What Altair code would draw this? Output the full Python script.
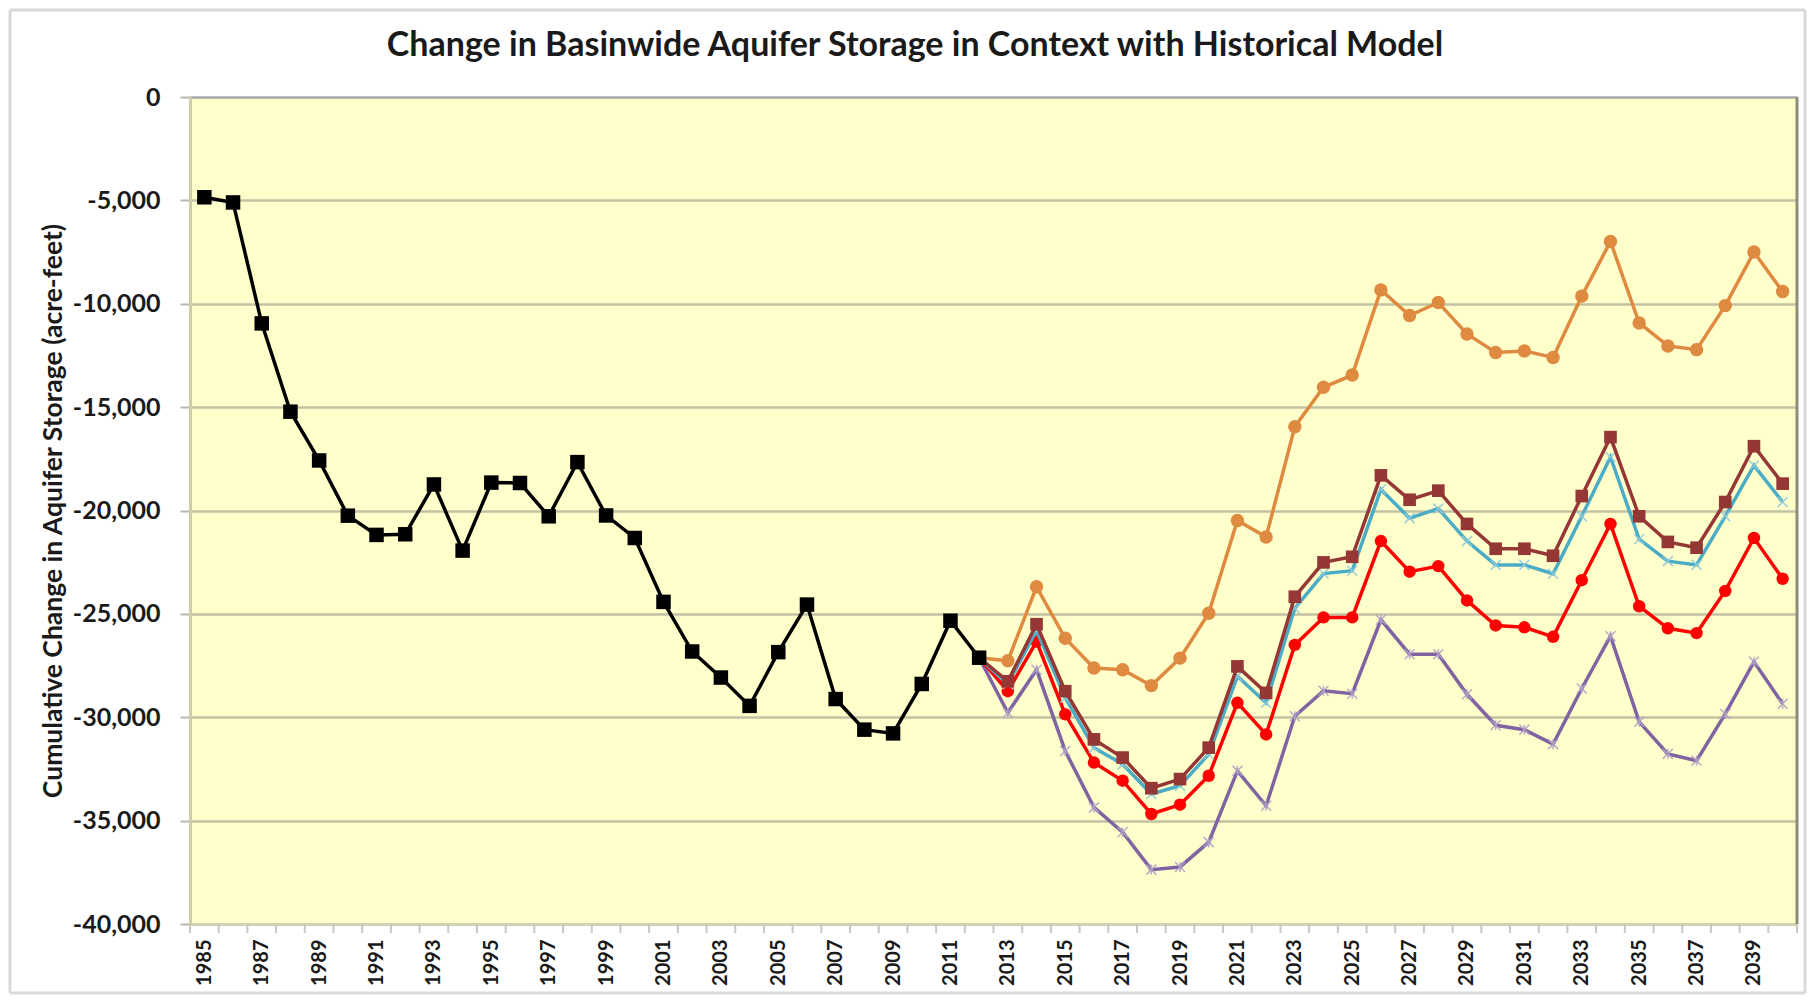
import altair as alt
import pandas as pd

title_text = "Change in Basinwide Aquifer Storage in Context with Historical Model"
y_title = "Cumulative Change in Aquifer Storage (acre-feet)"

hist_years = [1985, 1986, 1987, 1988, 1989, 1990, 1991, 1992, 1993, 1994,
              1995, 1996, 1997, 1998, 1999, 2000, 2001, 2002, 2003, 2004,
              2005, 2006, 2007, 2008, 2009, 2010, 2011, 2012]
historical = [-4850, -5100, -10950, -15220, -17580, -20250, -21180, -21150, -18740, -21940,
              -18650, -18670, -20280, -17660, -20240, -21330, -24420, -26820, -28080, -29450,
              -26850, -24550, -29120, -30600, -30780, -28390, -25330, -27120]

scen_years = [2012, 2013, 2014, 2015, 2016, 2017, 2018, 2019, 2020, 2021,
              2022, 2023, 2024, 2025, 2026, 2027, 2028, 2029, 2030, 2031,
              2032, 2033, 2034, 2035, 2036, 2037, 2038, 2039, 2040]
scen_orange = [-27120, -27270, -23690, -26180, -27620, -27700, -28470, -27140, -24970, -20480,
               -21280, -15950, -14040, -13450, -9330, -10570, -9940, -11460, -12360, -12280,
               -12600, -9630, -6990, -10930, -12040, -12220, -10090, -7500, -9410]
scen_darkred = [-27120, -28260, -25500, -28740, -31070, -31950, -33430, -32990, -31470, -27540,
                -28820, -24170, -22510, -22240, -18300, -19480, -19040, -20650, -21850, -21850,
                -22190, -19300, -16450, -20280, -21520, -21800, -19590, -16890, -18700]
scen_teal = [-27120, -28400, -25800, -29060, -31470, -32270, -33710, -33310, -31790, -28020,
             -29300, -24730, -23050, -22910, -18980, -20370, -19910, -21480, -22630, -22630,
             -23060, -20280, -17410, -21390, -22450, -22630, -20280, -17820, -19590]
scen_red = [-27120, -28740, -26340, -29860, -32190, -33070, -34680, -34230, -32830, -29300,
            -30830, -26500, -25170, -25170, -21480, -22960, -22690, -24350, -25560, -25650,
            -26110, -23370, -20650, -24630, -25700, -25930, -23890, -21330, -23300]
scen_purple = [-27120, -29780, -27700, -31630, -34360, -35560, -37370, -37240, -36040, -32590,
               -34280, -29950, -28720, -28860, -25285, -26950, -26950, -28890, -30390, -30600,
               -31300, -28610, -26080, -30220, -31770, -32100, -29840, -27320, -29350]

x_tick_labels = [1985, 1987, 1989, 1991, 1993, 1995, 1997, 1999, 2001, 2003,
                 2005, 2007, 2009, 2011, 2013, 2015, 2017, 2019, 2021, 2023,
                 2025, 2027, 2029, 2031, 2033, 2035, 2037, 2039]
y_tick_values = [0, -5000, -10000, -15000, -20000, -25000, -30000, -35000, -40000]

# ---------------------------------------------------------------------------
series = [
    ("Historical Model", hist_years, historical),
    ("Scenario 1", scen_years, scen_orange),
    ("Scenario 2", scen_years, scen_darkred),
    ("Scenario 3", scen_years, scen_teal),
    ("Scenario 4", scen_years, scen_red),
    ("Scenario 5", scen_years, scen_purple),
]
rows = []
for name, yrs, vals in series:
    for yr, v in zip(yrs, vals):
        rows.append({"Series": name, "Year": yr, "Value": v})
df = pd.DataFrame(rows)

all_years = sorted(set(hist_years) | set(scen_years))
edges = [y - 0.5 for y in all_years] + [all_years[-1] + 0.5]
edge_df = pd.DataFrame({"Year": edges})

W, H = 1607, 827
PAD = {"left": 182, "top": 89, "right": 11, "bottom": 72}

x_scale = alt.Scale(domain=[all_years[0] - 0.5, all_years[-1] + 0.5], nice=False, zero=False)
y_scale = alt.Scale(domain=[y_tick_values[-1], y_tick_values[0]], nice=False, zero=False)

x_axis = alt.Axis(
    values=x_tick_labels, labelExpr="format(datum.value, 'd')",
    labelAngle=270, labelAlign="right",
    labelBaseline="middle", labelFont="Lato", labelFontWeight="bold",
    labelFontSize=20, labelColor="#1a1a1a", labelPadding=15, ticks=False,
    grid=False, domainColor="#D3D1B0", domainWidth=2, title=None,
    labelOverlap=False, labelFlush=False,
)
y_axis = alt.Axis(
    values=y_tick_values,
    labelExpr="replace(format(datum.value, ','), '\u2212', '-')",
    labelFont="Lato", labelFontWeight="bold", labelFontSize=25,
    labelColor="#1a1a1a", labelPadding=20, tickSize=10, tickColor="#B8B7AA",
    tickWidth=2, domainColor="#CFCDA6", domainWidth=3,
    gridColor={"condition": {"test": "datum.value === 0", "value": "#A9A9A9"},
               "value": "#C3C1A3"},
    gridWidth=2.5, title=y_title, titleFont="Lato", titleFontSize=26.5,
    titleFontWeight="bold", titleColor="#1a1a1a", titleX=-137, titleY=H / 2,
    titleAngle=270, titleAlign="center", titleBaseline="middle",
    labelOverlap=False, labelFlush=False,
)

X_PATH = "M -1 -1 L 1 1 M -1 1 L 1 -1"
STAR_PATH = "M -1 -1 L 1 1 M -1 1 L 1 -1 M 0 -1 L 0 1"

style = {
    "Historical Model": dict(color="#000000", shape="square", size=210, filled=True, mcolor="#000000"),
    "Scenario 1": dict(color="#DE8A40", shape="circle", size=180, filled=True, mcolor="#DE8A40"),
    "Scenario 2": dict(color="#953735", shape="square", size=160, filled=True, mcolor="#953735"),
    "Scenario 3": dict(color="#4BACC6", shape=X_PATH, size=100, filled=False, mcolor="#8FCBDB"),
    "Scenario 4": dict(color="#FF0000", shape="circle", size=155, filled=True, mcolor="#FF0000"),
    "Scenario 5": dict(color="#8064A2", shape=STAR_PATH, size=100, filled=False, mcolor="#B3A2C7"),
}
draw_order = ["Scenario 1", "Scenario 5", "Scenario 4", "Scenario 3", "Scenario 2", "Historical Model"]

layers = []

# light outer frame of the chart
frame_src = pd.DataFrame({"k": [0]})
frame_col = "#D9D9D9"
fb = H + PAD["bottom"] - 3
fr = W + PAD["right"] - 3
layers.append(alt.Chart(frame_src).mark_rule(color=frame_col, strokeWidth=3).encode(
    x=alt.value(-180), y=alt.value(-87), y2=alt.value(fb)))
layers.append(alt.Chart(frame_src).mark_rule(color=frame_col, strokeWidth=3).encode(
    x=alt.value(fr), y=alt.value(-87), y2=alt.value(fb)))
layers.append(alt.Chart(frame_src).mark_rule(color=frame_col, strokeWidth=3).encode(
    x=alt.value(-180), x2=alt.value(fr), y=alt.value(-87)))
layers.append(alt.Chart(frame_src).mark_rule(color=frame_col, strokeWidth=3).encode(
    x=alt.value(-180), x2=alt.value(fr), y=alt.value(fb)))

# x tick marks at category boundaries
layers.append(alt.Chart(edge_df).mark_rule(color="#C9C8BE", strokeWidth=2).encode(
    x=alt.X("Year:Q", scale=x_scale, axis=x_axis),
    y=alt.value(H), y2=alt.value(H + 9)))

# right plot border
layers.append(alt.Chart(frame_src).mark_rule(color="#8F8D7A", strokeWidth=3).encode(
    x=alt.value(W), y=alt.value(0), y2=alt.value(H)))

for name in draw_order:
    st = style[name]
    base = alt.Chart(df).transform_filter(alt.datum.Series == name).encode(
        x=alt.X("Year:Q", scale=x_scale, axis=x_axis),
        y=alt.Y("Value:Q", scale=y_scale, axis=y_axis),
    )
    layers.append(base.mark_line(color=st["color"], strokeWidth=3.5))
    if st["filled"]:
        pts = base.mark_point(shape=st["shape"], size=st["size"], filled=True,
                              color=st["mcolor"], opacity=1)
    else:
        pts = base.mark_point(shape=st["shape"], size=st["size"], filled=False,
                              color=st["mcolor"], strokeWidth=1.5, opacity=0.9)
    layers.append(pts)

# chart title
layers.append(alt.Chart(pd.DataFrame({"t": [title_text]})).mark_text(
    font="Lato", fontSize=34, fontWeight="bold", align="center",
    baseline="alphabetic", color="#1a1a1a").encode(
    x=alt.value(725), y=alt.value(-41), text="t:N"))

chart = alt.layer(*layers).properties(
    width=W, height=H,
    autosize=alt.AutoSizeParams(type="none"),
    padding=PAD,
    background="#FFFFFF",
).configure_view(fill="#FFFFCC", stroke="transparent")

chart.save("out.html", embed_options={"renderer": "svg", "actions": False})
